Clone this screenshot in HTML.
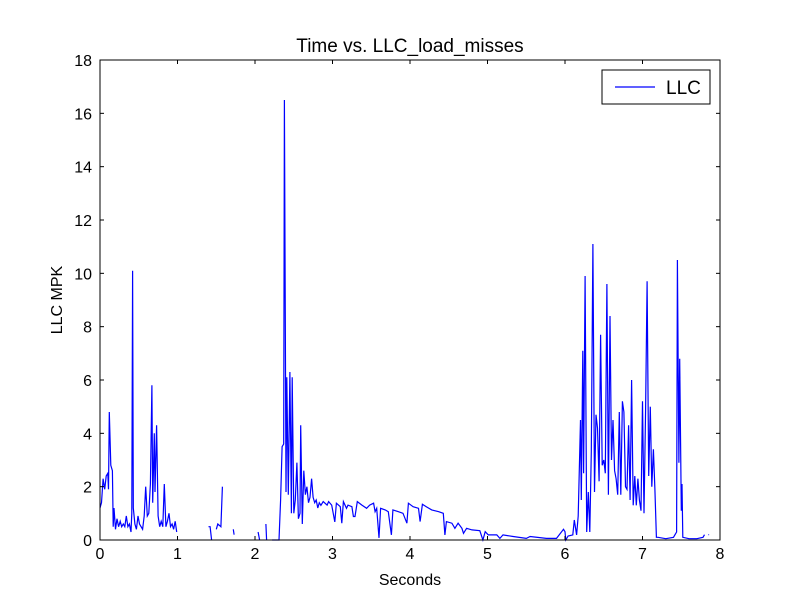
<!DOCTYPE html>
<html><head><meta charset="utf-8"><style>
body{margin:0;background:#fff;width:800px;height:600px;overflow:hidden}
text{font-family:"Liberation Sans","DejaVu Sans",sans-serif;fill:#000}
</style></head><body>
<svg id="chart" width="800" height="600" xmlns="http://www.w3.org/2000/svg"></svg>
<script>
const times=[0,0.02,0.04,0.06,0.08,0.1,0.11,0.12,0.14,0.16,0.17,0.18,0.2,0.22,0.24,0.26,0.28,0.3,0.32,0.34,0.36,0.38,0.4,0.41,0.42,0.43,0.45,0.47,0.49,0.51,0.53,0.55,0.57,0.59,0.61,0.63,0.65,0.67,0.68,0.7,0.71,0.73,0.75,0.77,0.79,0.81,0.83,0.85,0.87,0.89,0.91,0.93,0.95,0.97,0.99,
1.2,1.4,1.42,1.44,1.47,1.5,1.52,1.56,1.58,1.65,1.72,1.73,1.9,2.04,2.06,2.1,2.14,2.15,2.18,
2.22,2.31,2.33,2.35,2.37,2.38,2.4,2.41,2.43,2.45,2.47,2.48,2.5,2.52,2.54,2.56,2.58,2.59,2.61,2.63,2.65,2.67,2.69,2.71,2.73,2.75,2.77,2.79,2.81,2.83,2.85,2.88,2.93,2.95,2.99,
3.03,3.05,3.10,3.12,3.14,3.18,3.20,3.25,3.27,3.29,3.32,3.38,3.44,3.48,3.53,3.55,3.57,3.60,3.62,3.68,3.72,3.76,3.78,3.85,3.91,3.96,3.98,4.04,4.11,4.13,4.16,4.21,4.28,4.37,4.43,4.45,4.47,4.54,4.58,4.62,4.67,4.69,4.73,4.80,4.90,4.94,4.97,5.01,5.12,5.16,5.20,5.33,5.50,5.55,5.76,5.89,5.98,6.00,6.01,6.04,6.10,6.12,6.15,6.17,
6.2,6.21,6.23,6.24,6.26,6.28,6.3,6.32,6.34,6.36,6.38,6.4,6.42,6.44,6.46,6.48,6.5,6.52,6.54,6.56,6.58,6.6,6.62,6.64,6.66,6.68,6.7,6.72,6.74,6.76,6.78,6.8,6.82,6.84,6.86,6.88,6.9,6.92,6.94,6.96,6.98,7.0,7.02,7.04,7.06,7.08,7.1,7.12,7.14,7.16,7.18,7.2,7.3,7.4,7.42,7.44,7.45,7.47,7.48,7.5,7.51,7.52,7.6,7.7,7.78,7.8,7.82,7.85,7.86];
const llc=[1.2,1.4,2.3,1.9,2.4,2.5,1.9,4.8,2.8,2.6,0.5,1.2,0.4,0.8,0.5,0.7,0.5,0.6,0.5,0.9,0.5,0.6,0.3,1.0,10.1,1.2,0.6,0.4,0.9,0.6,0.5,0.4,0.9,2.0,0.9,1.0,2.1,5.8,1.4,4.0,1.8,4.3,0.9,0.5,0.7,0.5,2.1,0.5,0.7,1.0,0.5,0.6,0.4,0.7,0.3,
null,0.5,0.5,0,null,0.4,0.6,0.5,2.0,null,0.4,0.2,null,0.3,0,null,0.6,0,null,
0,0,1.5,3.5,3.6,16.5,1.8,6.1,1.7,6.3,1.0,6.1,1.0,1.5,2.9,0.8,1.0,4.3,0.6,2.6,1.7,2.0,1.4,1.6,2.3,1.6,1.4,1.5,1.2,1.4,1.3,1.44,1.31,1.44,1.31,
0.68,1.38,1.25,0.63,1.44,1.19,1.31,1.25,0.88,0.88,1.44,1.31,1.19,1.31,1.38,1.06,1.19,0.08,1.19,1.13,1.06,0.19,1.13,1.06,1.0,0.63,1.38,1.25,1.19,0.69,1.34,1.25,1.13,1.06,1.0,0.19,0.69,0.63,0.44,0.63,0.44,0.25,0.44,0.38,0.35,0.0,0.31,0.19,0.19,0.06,0.19,0.13,0.06,0.13,0.06,0.06,0.40,0.31,0,0.15,0.19,0.75,0.19,0.9,
4.5,1.5,7.1,2.5,9.9,0.3,1.8,0.3,3.3,11.1,1.8,4.7,4.2,2.2,7.7,2.8,3.0,2.5,9.6,1.7,8.4,3.0,4.5,2.6,2.3,1.7,4.8,1.7,5.2,4.8,2.0,1.9,4.3,1.5,6.0,1.3,2.4,1.3,2.3,1.5,1.1,5.2,1.0,4.9,9.7,2.4,5.0,2.0,3.4,1.9,0.1,0.1,0.05,0.1,0.2,0.3,10.5,2.9,6.8,1.1,2.1,0.1,0.05,0.05,0.1,0.2,null,0.2,0.2];
const xTicks=[0,1,2,3,4,5,6,7,8];
const yTicks=[0,2,4,6,8,10,12,14,16,18];
const NS="http://www.w3.org/2000/svg";
const svg=document.getElementById('chart');
const L=100,R=720,T=60,B=540;
const xs=t=>L+(t/8)*(R-L), ys=v=>B-(v/18)*(B-T);
function mk(tag,a,txt){const e=document.createElementNS(NS,tag);for(const k in a)e.setAttribute(k,a[k]);if(txt!=null)e.textContent=txt;svg.appendChild(e);return e;}
let d="",pen=false;
for(let i=0;i<times.length;i++){if(llc[i]==null){pen=false;continue;}d+=(pen?"L":"M")+xs(times[i]).toFixed(1)+" "+ys(llc[i]).toFixed(1);pen=true;}
const ln=mk('path',{d:d,fill:'none',stroke:'#0000ff','stroke-width':1.2});


const fr=mk('rect',{x:L,y:T,width:R-L,height:B-T,fill:'none',stroke:'#000','stroke-width':1});


xTicks.forEach(t=>{const x=xs(t);mk('line',{x1:x,x2:x,y1:B,y2:B-4,stroke:'#000'});mk('line',{x1:x,x2:x,y1:T,y2:T+4,stroke:'#000'});
const tl=mk('text',{x:x,y:B+19,'font-size':16,'text-anchor':'middle'},String(t));

});
yTicks.forEach(v=>{const y=ys(v);mk('line',{x1:L,x2:L+4,y1:y,y2:y,stroke:'#000'});mk('line',{x1:R,x2:R-4,y1:y,y2:y,stroke:'#000'});
const tl=mk('text',{x:L-8,y:y+6,'font-size':16,'text-anchor':'end'},String(v));

});
const tt=mk('text',{x:410,y:52,'font-size':19,'text-anchor':'middle'},'Time vs. LLC_load_misses');


const xt=mk('text',{x:410,y:585,'font-size':16,'text-anchor':'middle'},'Seconds');


const yt=mk('text',{x:62,y:300,'font-size':16,'text-anchor':'middle',transform:'rotate(-90 62 300)'},'LLC MPK');


const lg=mk('rect',{x:602,y:70,width:108,height:34,fill:'#fff',stroke:'#000'});


mk('line',{x1:615,x2:655,y1:87,y2:87,stroke:'#0000ff','stroke-width':1.2});
const lt=mk('text',{x:666,y:94,'font-size':19},'LLC');


</script>
</body></html>
